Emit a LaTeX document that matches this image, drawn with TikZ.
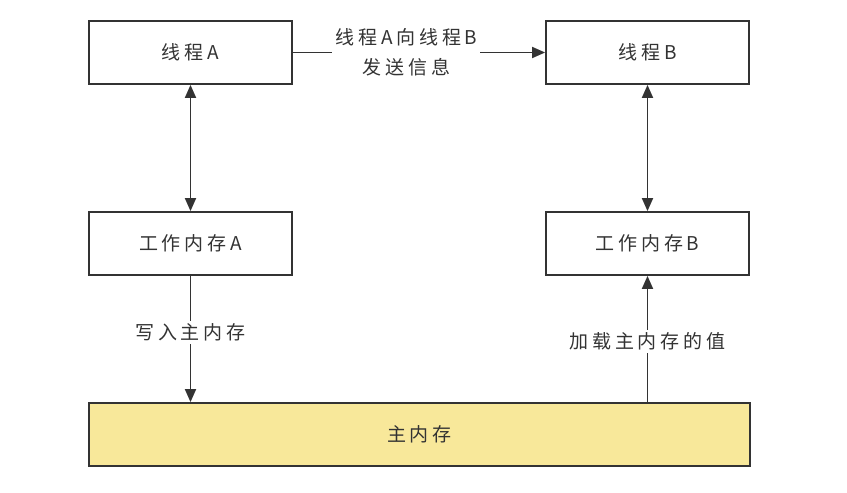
\documentclass[tikz,border=0pt]{standalone}
\usepackage{fontspec}
\setmainfont{Noto Sans CJK SC}[LetterSpace=20]
\usetikzlibrary{arrows.meta}
\definecolor{ln}{HTML}{333333}
\definecolor{tx}{HTML}{333333}
\definecolor{yel}{HTML}{F8E89A}
\begin{document}
\begin{tikzpicture}[x=1pt,y=-1pt,
  box/.style={draw=ln,line width=1.8pt,minimum width=203pt,minimum height=63pt,inner sep=0pt,text=tx,font=\fontsize{19}{24}\selectfont},
  conn/.style={draw=ln,line width=1.8pt,-{Triangle[length=13pt,width=11pt]}},
  dconn/.style={draw=ln,line width=1.8pt,{Triangle[length=13pt,width=11pt]}-{Triangle[length=13pt,width=11pt]}},
  lbl/.style={fill=white,text=tx,inner sep=3pt,align=center,font=\fontsize{19}{30}\selectfont}]
\useasboundingbox (0,0) rectangle (847,493);
\node[box] (ta) at (190.5,52.5) {线程A};
\node[box] (tb) at (647.5,52.5) {线程B};
\node[box] (wa) at (190.5,243.5) {工作内存A};
\node[box] (wb) at (647.5,243.5) {工作内存B};
\node[box,fill=yel,minimum width=661pt] (mm) at (419.5,434.5) {主内存};
\draw[conn] (ta.east) -- node[lbl,pos=0.45] (l1) {线程A向线程B\\发送信息} (tb.west);
\draw[dconn] (ta.south) -- (wa.north);
\draw[dconn] (tb.south) -- (wb.north);
\coordinate (ma) at (wa.south |- mm.north);
\coordinate (mb) at (wb.south |- mm.north);
\draw[conn] (wa.south) -- node[lbl,pos=0.45] (l2) {写入主内存} (ma);
\draw[conn] (mb) -- node[lbl,pos=0.48] (l3) {加载主内存的值} (wb.south);
\end{tikzpicture}
\end{document}
